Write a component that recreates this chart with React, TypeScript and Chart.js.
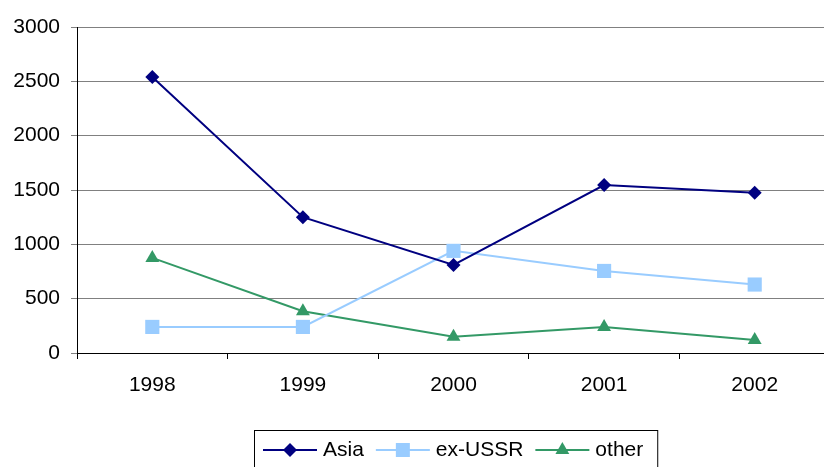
import React, { useEffect, useRef } from "react";
import { Chart, registerables } from "chart.js";

Chart.register(...registerables);

const years = ["1998", "1999", "2000", "2001", "2002"];
const asia = [2540, 1250, 810, 1545, 1475];
const exUssr = [240, 240, 940, 755, 630];
const other = [875, 385, 150, 240, 120];

const FONT = "'Liberation Sans', Arial, sans-serif";

type Shape = "diamond" | "square" | "triangle";

function drawMarker(ctx: CanvasRenderingContext2D, shape: Shape, x: number, y: number, color: string) {
  ctx.save();
  ctx.fillStyle = color;
  ctx.beginPath();
  if (shape === "diamond") {
    const r = 7;
    ctx.moveTo(x - r, y);
    ctx.lineTo(x, y - r);
    ctx.lineTo(x + r, y);
    ctx.lineTo(x, y + r);
  } else if (shape === "square") {
    const h = 7;
    ctx.rect(x - h, y - h, 2 * h, 2 * h);
  } else {
    const r = 8;
    ctx.moveTo(x, y - r);
    ctx.lineTo(x + r * 0.866, y + r / 2);
    ctx.lineTo(x - r * 0.866, y + r / 2);
  }
  ctx.closePath();
  ctx.fill();
  ctx.restore();
}

const legendShapes: Shape[] = ["diamond", "square", "triangle"];

// Boxed legend along the bottom edge, built from the chart's datasets.
const boxedLegend = {
  id: "boxedLegend",
  afterDraw(chart: any) {
    const ctx: CanvasRenderingContext2D = chart.ctx;
    ctx.save();
    ctx.font = `21px ${FONT}`;
    ctx.textBaseline = "middle";
    ctx.textAlign = "left";
    const y = 450;
    let x = 263;
    chart.data.datasets.forEach((ds: any, i: number) => {
      ctx.strokeStyle = ds.borderColor;
      ctx.lineWidth = 2;
      ctx.beginPath();
      ctx.moveTo(x, y);
      ctx.lineTo(x + 54, y);
      ctx.stroke();
      drawMarker(ctx, legendShapes[i], x + 27, y, ds.borderColor);
      ctx.fillStyle = "#000";
      ctx.fillText(ds.label, x + 60, y);
      x = x + 60 + ctx.measureText(ds.label).width + 12;
    });
    const right = x - 12 + 14;
    ctx.strokeStyle = "#000";
    ctx.lineWidth = 1;
    ctx.strokeRect(254.5, 430.5, right - 254, 60);
    ctx.restore();
  },
};

export default function App() {
  const canvasRef = useRef<HTMLCanvasElement | null>(null);

  useEffect(() => {
    const canvas = canvasRef.current;
    if (!canvas) return;
    const chart = new Chart(canvas, {
      type: "line",
      data: {
        labels: years,
        datasets: [
          {
            label: "Asia",
            data: asia,
            borderColor: "#000080",
            backgroundColor: "#000080",
            borderWidth: 2,
            pointStyle: "rectRot",
            pointRadius: 7,
            pointBorderWidth: 0,
            tension: 0,
          },
          {
            label: "ex-USSR",
            data: exUssr,
            borderColor: "#99CCFF",
            backgroundColor: "#99CCFF",
            borderWidth: 2,
            pointStyle: "rect",
            pointRadius: 10,
            pointBorderWidth: 0,
            tension: 0,
          },
          {
            label: "other",
            data: other,
            borderColor: "#339966",
            backgroundColor: "#339966",
            borderWidth: 2,
            pointStyle: "triangle",
            pointRadius: 8,
            pointBorderWidth: 0,
            tension: 0,
          },
        ],
      },
      options: {
        responsive: false,
        animation: false,
        layout: { padding: { top: 27, right: 5, left: 0, bottom: 0 } },
        plugins: {
          legend: { display: false },
          tooltip: { enabled: false },
        },
        scales: {
          x: {
            offset: true,
            grid: {
              offset: true,
              drawOnChartArea: false,
              drawTicks: true,
              tickLength: 6,
              color: "#000",
            },
            border: { color: "#000", width: 1 },
            ticks: {
              color: "#000",
              font: { family: FONT, size: 21 },
              padding: 14,
              maxRotation: 0,
            },
            afterFit(scale: any) {
              scale.height = 114;
            },
          },
          y: {
            min: 0,
            max: 3000,
            ticks: {
              stepSize: 500,
              color: "#000",
              font: { family: FONT, size: 21 },
              padding: 11,
              callback: (value: any) => String(value),
            },
            grid: {
              color: "#808080",
              tickLength: 6,
              lineWidth: 1,
            },
            border: { color: "#000", width: 1 },
            afterFit(scale: any) {
              scale.width = 77;
            },
          },
        },
      },
      plugins: [boxedLegend],
    });
    return () => chart.destroy();
  }, []);

  return (
    <div style={{ position: "fixed", left: 0, top: 0, width: 840, height: 467, background: "#fff" }}>
      <canvas ref={canvasRef} width={840} height={467} />
    </div>
  );
}
